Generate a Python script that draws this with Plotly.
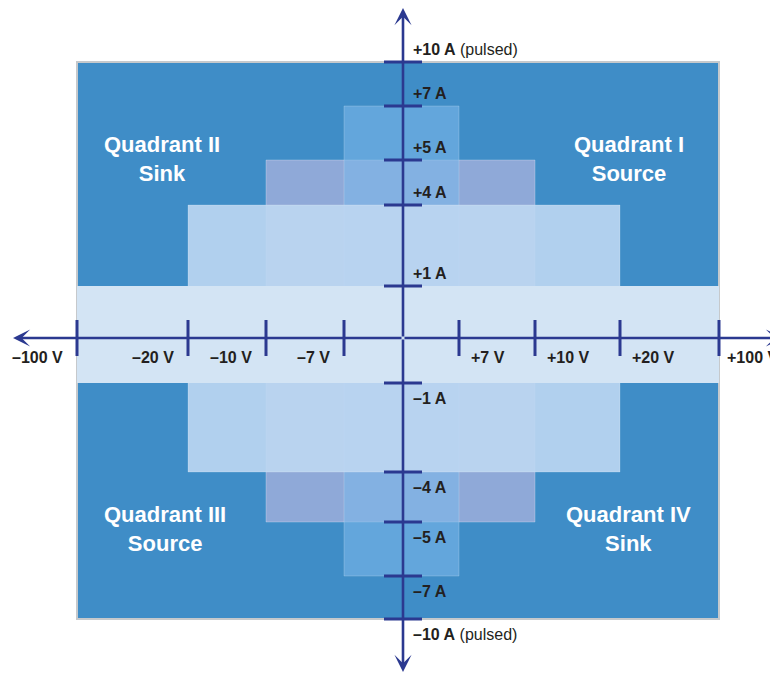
import numpy as np
import plotly.graph_objects as go

# dados do diagrama (tensão em V, corrente em A)
volt_ticks = [-100, -20, -10, -7, 7, 10, 20, 100]
volt_labels = ["–100 V", "–20 V", "–10 V", "–7 V", "+7 V", "+10 V", "+20 V", "+100 V"]
amp_ticks = [10, 7, 5, 4, 1, -1, -4, -5, -7, -10]
amp_labels = ["<b>+10 A</b> (pulsed)", "<b>+7 A</b>", "<b>+5 A</b>", "<b>+4 A</b>", "<b>+1 A</b>",
              "<b>–1 A</b>", "<b>–4 A</b>", "<b>–5 A</b>", "<b>–7 A</b>", "<b>–10 A</b> (pulsed)"]

# faixas de operação: limite de tensão, limite de corrente (desenhadas nesta ordem)
region_volt = [100, 10, 7, 20, 100]
region_amp = [10, 5, 7, 4, 1]

quadrant_names = ["Quadrant I<br>Source", "Quadrant II<br>Sink", "Quadrant III<br>Source", "Quadrant IV<br>Sink"]

# escala não linear do eixo (valor -> posição no desenho)
X_KNOTS = [-100, -20, -10, -7, 0, 7, 10, 20, 100]
X_POS = [-326, -215, -137, -59, 0, 56, 132, 217, 316]
Y_KNOTS = [-10, -7, -5, -4, -1, 0, 1, 4, 5, 7, 10]
Y_POS = [-281, -238, -184, -134, -45, 0, 52, 133, 178, 232, 276]


def sx(v):
    return float(np.interp(v, X_KNOTS, X_POS))


def sy(a):
    return float(np.interp(a, Y_KNOTS, Y_POS))


AXIS = "#2b3990"
FONT = "Liberation Sans, Arial, sans-serif"
region_fill = ["#3f8dc7", "#8fa9d8", "rgba(123,183,234,0.6)", "rgba(190,215,242,0.9)", "#d3e4f4"]
region_line = [dict(color="#c6c9cc", width=2), dict(color="rgba(255,255,255,0.25)", width=1),
               dict(color="rgba(255,255,255,0.2)", width=1), dict(color="rgba(255,255,255,0.2)", width=1),
               dict(width=0)]

fig = go.Figure()
fig.add_trace(go.Scatter(x=[0], y=[0], mode="markers", marker=dict(opacity=0), hoverinfo="skip"))

shapes = []
for v, a, fc, ln in zip(region_volt, region_amp, region_fill, region_line):
    shapes.append(dict(type="rect", xref="x", yref="y", x0=sx(-v), x1=sx(v), y0=sy(-a), y1=sy(a),
                       fillcolor=fc, line=ln, layer="below"))

# marcas dos eixos
for v in volt_ticks:
    shapes.append(dict(type="line", xref="x", yref="y", x0=sx(v), x1=sx(v), y0=-18, y1=18,
                       line=dict(color=AXIS, width=3)))
for a in amp_ticks:
    shapes.append(dict(type="line", xref="x", yref="y", x0=-19, x1=19, y0=sy(a), y1=sy(a),
                       line=dict(color=AXIS, width=3)))

ann = []
# setas dos eixos
for tip in [(-390, 0), (380, 0), (0, 330), (0, -334)]:
    ann.append(dict(x=tip[0], y=tip[1], ax=0, ay=0, xref="x", yref="y", axref="x", ayref="y",
                    showarrow=True, arrowhead=3, arrowsize=1.1, arrowwidth=2.6, arrowcolor=AXIS, text=""))

for v, lab in zip(volt_ticks, volt_labels):
    neg = v < 0
    shift = -12 if neg else (6 if v == max(volt_ticks) else 10)
    ann.append(dict(x=sx(v), y=0, xref="x", yref="y", text="<b>" + lab + "</b>", showarrow=False,
                    xanchor="right" if neg else "left", xshift=shift, yshift=-19,
                    font=dict(family=FONT, size=16, color="#231f20")))

for a, lab in zip(amp_ticks, amp_labels):
    ann.append(dict(x=0, y=sy(a), xref="x", yref="y", text=lab, showarrow=False,
                    xanchor="left", xshift=8, yshift=13 if a > 0 else -15,
                    font=dict(family=FONT, size=16, color="#231f20")))

quad_pos = [(226, 179.5), (-241, 179.5), (-238, -190.5), (225, -190.5)]
for (qx, qy), name in zip(quad_pos, quadrant_names):
    ann.append(dict(x=qx, y=qy, xref="x", yref="y", text="<b>" + name + "</b>", showarrow=False,
                    align="center", font=dict(family=FONT, size=22, color="white")))

# a página tem 8 px de margem, por isso a figura é um pouco menor que a janela
fig.update_layout(
    width=770, height=665,
    margin=dict(l=0, r=0, t=0, b=0),
    paper_bgcolor="white", plot_bgcolor="white",
    showlegend=False,
    xaxis=dict(range=[-395, 375], visible=False, fixedrange=True),
    yaxis=dict(range=[-335, 330], visible=False, fixedrange=True),
    shapes=shapes,
    annotations=ann,
)

fig.write_html("out.html")
